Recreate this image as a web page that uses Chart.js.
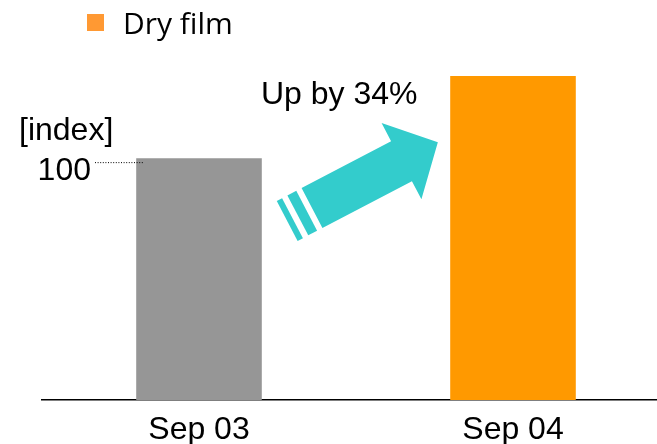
<!DOCTYPE html>
<html>
<head>
<meta charset="utf-8">
<script src="https://cdn.jsdelivr.net/npm/chart.js@4"></script>
<style>
  html, body { margin: 0; padding: 0; background: #fff; overflow: hidden; }
  #wrap { width: 657px; height: 444px; overflow: hidden; }
</style>
</head>
<body>
<div id="wrap"><canvas id="filmChart" width="670" height="444"></canvas></div>
<script>
'use strict';

const categories = ['Sep 03', 'Sep 04'];
const indexValues = [100, 134];
const barColors = ['#969696', '#ff9900'];
const seriesName = 'Dry film';
const unitLabel = '[index]';
const baseValue = 100;
const changeLabel = 'Up by 34%';

const ARIAL = '"Liberation Sans", Arial, sans-serif';

// legend, base-value marker, growth arrow and caption
const annotations = {
  id: 'annotations',
  afterDraw(chart) {
    const ctx = chart.ctx;
    const y = chart.scales.y;
    const bars = chart.getDatasetMeta(0).data;
    ctx.save();

    // legend swatch and name
    ctx.fillStyle = '#ff9933';
    ctx.fillRect(87, 14, 17, 17);
    ctx.fillStyle = '#000';
    ctx.font = '30px "Open Sans", sans-serif';
    ctx.textBaseline = 'alphabetic';
    ctx.textAlign = 'left';
    ctx.fillText(seriesName, 123, 34);

    // unit and base value with dotted leader
    const baseY = y.getPixelForValue(baseValue);
    ctx.font = '32px ' + ARIAL;
    ctx.fillText(unitLabel, 19, 140);
    ctx.textAlign = 'right';
    ctx.fillText(String(baseValue), 91, 180);
    ctx.strokeStyle = '#000';
    ctx.lineWidth = 1;
    ctx.setLineDash([1, 1.6]);
    ctx.beginPath();
    ctx.moveTo(95, baseY + 4.5);
    ctx.lineTo(bars[0].x - bars[0].width / 2 + 8, baseY + 4.5);
    ctx.stroke();
    ctx.setLineDash([]);

    // caption above the arrow
    ctx.textAlign = 'left';
    ctx.fillText(changeLabel, 261, 104);

    // arrow, drawn in its own rotated frame from the tail centre
    ctx.translate(312, 208);
    ctx.rotate(-27.6 * Math.PI / 180);
    ctx.fillStyle = '#33cccc';
    ctx.beginPath();
    ctx.moveTo(0, -22.5);
    ctx.lineTo(101, -22.5);
    ctx.lineTo(101, -43);
    ctx.lineTo(142, 0);
    ctx.lineTo(101, 43);
    ctx.lineTo(101, 22.5);
    ctx.lineTo(0, 22.5);
    ctx.closePath();
    ctx.fill();
    ctx.fillRect(-16, -22.5, 10, 45);
    ctx.fillRect(-28, -22.5, 6, 45);

    ctx.restore();
  }
};

new Chart(document.getElementById('filmChart').getContext('2d'), {
  type: 'bar',
  data: {
    labels: categories,
    datasets: [{
      label: seriesName,
      data: indexValues,
      backgroundColor: barColors,
      barPercentage: 0.4,
      categoryPercentage: 1.0
    }]
  },
  options: {
    responsive: false,
    animation: false,
    layout: { padding: { left: 42, top: 13, right: 0, bottom: 0 } },
    plugins: {
      legend: { display: false },
      tooltip: { enabled: false }
    },
    scales: {
      x: {
        grid: { display: false, drawTicks: false },
        border: { display: true, color: '#000', width: 1.5 },
        ticks: { color: '#000', font: { family: ARIAL, size: 32 }, padding: 11 },
        afterFit(scale) { scale.height = 44; }
      },
      y: {
        display: false,
        min: 0,
        max: 160
      }
    }
  },
  plugins: [annotations]
});
</script>
</body>
</html>
